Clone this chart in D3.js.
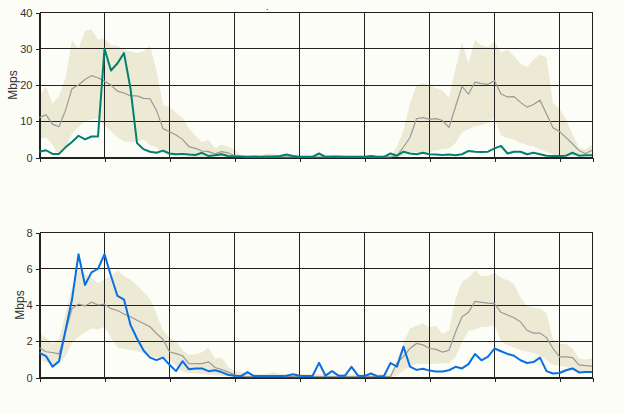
<!DOCTYPE html>
<html lang="en">
<head>
<meta charset="utf-8">
<style type="text/css">
    body {
        margin: 0;
        background: #fdfdf8;
        font-family: "Liberation Sans", Arial, sans-serif;
    }
    svg {
        position: absolute;
        left: 0;
        overflow: hidden;
    }
    .grid line {
        stroke: #222;
        stroke-width: 1px;
        shape-rendering: crispEdges;
    }
    .axis path, .axis line {
        stroke: #222;
        shape-rendering: crispEdges;
    }
    .axis text {
        fill: #333;
        font-size: 11px;
        font-family: "Liberation Sans", Arial, sans-serif;
    }
</style>
</head>
<body>
<svg id="top" width="624" height="164" style="top:0"></svg>
<svg id="bottom" width="624" height="164" style="top:220px"></svg>

<script src="https://d3js.org/d3.v7.min.js"></script>
<script>
// one sample every 1/10 of a grid column, 86 samples per series
var xTicks = [0, 10, 20, 30, 40, 50, 60, 70, 80];
var topTicks = [0, 10, 20, 30, 40];
var bottomTicks = [0, 2, 4, 6, 8];

// upper chart (Mbps)
var topIn = [
    1.6, 2.0, 1.0, 1.0, 2.8, 4.3, 6.0, 5.0, 5.8, 5.8,
    30.0, 24.0, 26.0, 28.8, 19.0, 4.0, 2.3, 1.6, 1.3, 1.9,
    1.1, 0.9, 1.0, 0.8, 0.7, 1.3, 0.4, 0.6, 0.9, 0.4,
    0.3, 0.3, 0.2, 0.3, 0.2, 0.3, 0.3, 0.4, 0.8, 0.4,
    0.2, 0.2, 0.2, 1.1, 0.2, 0.3, 0.3, 0.2, 0.2, 0.2,
    0.2, 0.4, 0.2, 0.2, 1.1, 0.5, 1.6, 1.1, 0.9, 1.3,
    0.9, 0.8, 0.7, 0.8, 0.6, 0.9, 1.8, 1.6, 1.5, 1.6,
    2.5, 3.2, 1.1, 1.6, 1.6, 0.9, 1.3, 0.9, 0.5, 0.4,
    0.4, 0.5, 1.3, 0.5, 0.6, 0.6
];
var topAvg = [
    11.0, 11.8, 9.2, 8.5, 13.0, 19.0, 20.0, 21.5, 22.6, 22.0,
    21.0, 20.0, 18.3, 17.8, 17.0, 17.0, 16.3, 16.2, 13.0, 8.0,
    7.1, 6.2, 5.0, 3.0, 2.5, 1.8, 1.6, 1.0, 1.6, 1.3,
    0.5, 0.3, 0.2, 0.2, 0.2, 0.2, 0.2, 0.2, 0.2, 0.2,
    0.2, 0.2, 0.2, 0.2, 0.2, 0.2, 0.2, 0.2, 0.2, 0.2,
    0.2, 0.2, 0.2, 0.2, 0.2, 0.5, 2.9, 5.5, 10.7, 11.0,
    10.5, 10.7, 10.2, 8.3, 14.0, 19.6, 17.5, 20.8, 20.4, 20.2,
    21.2, 17.5, 16.7, 16.8, 15.2, 13.9, 14.6, 15.8, 12.0, 8.2,
    7.2, 5.5, 3.8, 1.9, 1.1, 2.0
];
var topHi = [
    17.2, 19.5, 14.8, 17.0, 22.0, 32.3, 30.0, 35.0, 35.3, 32.5,
    33.0, 31.0, 30.8, 29.8, 29.3, 28.8, 29.3, 30.8, 24.0, 14.5,
    13.9, 12.3, 11.0, 8.0, 6.0, 4.2, 4.8, 2.6, 3.5, 3.0,
    2.3, 0.6, 0.5, 0.5, 0.6, 1.1, 1.0, 0.5, 0.6, 0.5,
    0.5, 0.5, 0.5, 0.5, 0.5, 0.5, 0.5, 0.5, 0.5, 0.5,
    0.5, 0.5, 0.5, 0.5, 0.5, 3.0, 7.5, 14.9, 19.9, 20.5,
    19.9, 19.2, 18.5, 16.5, 24.5, 31.8, 26.0, 32.5, 31.0, 30.5,
    32.0, 29.0, 29.8, 28.0, 25.8, 25.0, 27.0, 28.5, 27.5, 15.0,
    13.6, 10.5, 6.5, 2.8, 2.2, 3.5
];
var topLo = [
    5.2, 5.5, 3.5, 0.5, 2.5, 6.6, 8.5, 9.9, 10.5, 10.7,
    8.8, 7.3, 5.5, 4.5, 4.3, 4.5, 5.0, 3.4, 2.8, 1.2,
    0.6, 0.4, 0.2, 0.1, 0.1, 0.1, 0.1, 0.1, 0.1, 0.1,
    0.1, 0.1, 0.1, 0.1, 0.1, 0.1, 0.1, 0.1, 0.1, 0.1,
    0.1, 0.1, 0.1, 0.1, 0.1, 0.1, 0.1, 0.1, 0.1, 0.1,
    0.1, 0.1, 0.1, 0.1, 0.1, 0.1, 0.5, 1.6, 1.4, 1.3,
    1.5, 2.0, 2.3, 2.5, 4.0, 7.0, 7.8, 8.6, 8.9, 9.5,
    11.0, 6.0, 5.4, 5.0, 4.0, 3.4, 3.1, 2.2, 1.6, 0.8,
    0.5, 0.3, 0.3, 0.3, 0.3, 0.3
];

// lower chart (Mbps)
var bottomIn = [
    1.36, 1.18, 0.6, 0.9, 2.6, 4.3, 6.8, 5.1, 5.8, 6.0,
    6.8, 5.6, 4.5, 4.3, 2.9, 2.15, 1.5, 1.1, 0.96, 1.1,
    0.7, 0.35, 0.9, 0.45, 0.5, 0.5, 0.35, 0.4, 0.3, 0.15,
    0.1, 0.08, 0.3, 0.08, 0.08, 0.08, 0.08, 0.08, 0.1, 0.18,
    0.1, 0.08, 0.08, 0.81, 0.1, 0.35, 0.1, 0.1, 0.59, 0.1,
    0.08, 0.22, 0.06, 0.08, 0.8, 0.6, 1.7, 0.6, 0.42, 0.48,
    0.38, 0.33, 0.33, 0.4, 0.59, 0.5, 0.74, 1.3, 0.95, 1.15,
    1.6, 1.45, 1.3, 1.2, 0.95, 0.8, 0.85, 1.1, 0.35, 0.22,
    0.25, 0.4, 0.5, 0.28, 0.3, 0.31
];
var bottomAvg = [
    1.64, 1.42, 1.38, 1.3, 2.5, 3.8, 4.05, 3.95, 4.15, 4.0,
    4.05, 3.8, 3.7, 3.5, 3.35, 3.16, 2.98, 2.8, 2.43, 2.1,
    1.42, 1.32, 1.2, 0.76, 0.77, 0.77, 0.86, 0.55, 0.44, 0.31,
    0.15, 0.08, 0.05, 0.05, 0.05, 0.05, 0.05, 0.05, 0.05, 0.05,
    0.05, 0.05, 0.05, 0.05, 0.05, 0.05, 0.05, 0.05, 0.05, 0.05,
    0.05, 0.05, 0.05, 0.05, 0.05, 0.8, 1.15, 1.6, 1.88, 1.8,
    1.6, 1.55, 1.4, 1.5, 2.5, 3.35, 3.6, 4.2, 4.15, 4.1,
    4.08, 3.6, 3.45, 3.3, 3.07, 2.6, 2.45, 2.45, 2.2, 1.6,
    1.14, 1.14, 1.1, 0.7, 0.65, 0.63
];
var bottomHi = [
    2.43, 2.2, 1.85, 2.1, 3.5, 5.0, 6.0, 5.7, 5.5, 5.2,
    5.4, 5.6, 5.9, 5.6, 5.4, 5.1, 4.7, 4.35, 3.5, 2.6,
    2.2, 2.0, 1.5, 1.25, 1.28, 1.4, 1.65, 1.05, 1.1, 0.6,
    0.37, 0.3, 0.2, 0.2, 0.2, 0.2, 0.3, 0.2, 0.2, 0.2,
    0.2, 0.2, 0.2, 0.2, 0.2, 0.2, 0.2, 0.2, 0.2, 0.2,
    0.2, 0.2, 0.2, 0.2, 0.2, 1.0, 1.9, 2.7, 2.85, 3.0,
    2.75, 2.85, 2.4, 2.6, 4.3, 5.3, 5.5, 5.9, 5.6, 5.6,
    5.8, 5.5, 5.37, 5.15, 4.4, 3.95, 3.86, 3.8, 3.55, 2.1,
    1.86, 1.85, 1.6, 1.05, 1.0, 1.05
];
var bottomLo = [
    0.96, 0.86, 0.66, 0.72, 1.2, 1.87, 2.25, 2.5, 2.7, 2.65,
    2.8, 2.2, 1.65, 1.58, 1.5, 1.47, 1.32, 1.14, 1.1, 1.05,
    0.96, 0.65, 0.32, 0.25, 0.22, 0.2, 0.15, 0.13, 0.1, 0.05,
    0.03, 0.03, 0.03, 0.03, 0.03, 0.03, 0.03, 0.03, 0.03, 0.03,
    0.03, 0.03, 0.03, 0.03, 0.03, 0.03, 0.03, 0.03, 0.03, 0.03,
    0.03, 0.03, 0.03, 0.03, 0.03, 0.1, 0.4, 0.6, 0.77, 0.75,
    0.74, 0.76, 0.78, 0.8, 1.1, 1.95, 2.6, 2.65, 2.78, 2.8,
    2.9, 2.0, 1.8, 1.65, 1.5, 1.42, 1.35, 1.2, 0.95, 0.7,
    0.65, 0.59, 0.4, 0.28, 0.26, 0.3
];

var xEnd = 553 / 6.5;
var x = d3.scaleLinear().domain([0, xEnd]).range([39.5, 592.5]);

function drawPanel(svg, cfg) {
    var y = d3.scaleLinear().domain([0, cfg.yMax]).range([157.5, 12.5]);

    var area = d3.area()
        .x(function (d, i) { return x(i); })
        .y0(function (d, i) { return y(cfg.lo[i]); })
        .y1(function (d) { return y(d); });

    var line = d3.line()
        .x(function (d, i) { return x(i); })
        .y(function (d) { return y(d); });

    svg.append("path")
        .datum(cfg.hi)
        .attr("d", area)
        .attr("fill", "#ece9d4");

    var grid = svg.append("g").attr("class", "grid");
    grid.selectAll(".h")
        .data(cfg.ticks)
        .enter().append("line")
        .attr("x1", x(0)).attr("x2", x(xEnd))
        .attr("y1", function (d) { return y(d); })
        .attr("y2", function (d) { return y(d); });
    grid.selectAll(".v")
        .data(xTicks.concat([xEnd]))
        .enter().append("line")
        .attr("x1", function (d) { return x(d); })
        .attr("x2", function (d) { return x(d); })
        .attr("y1", y(cfg.yMax)).attr("y2", y(0));

    svg.append("g")
        .attr("class", "axis")
        .attr("transform", "translate(" + x(0) + ",0)")
        .call(d3.axisLeft(y).tickValues(cfg.ticks).tickSize(4).tickSizeOuter(0));

    svg.append("g")
        .attr("class", "axis")
        .attr("transform", "translate(0," + y(0) + ")")
        .call(d3.axisBottom(x).tickValues(xTicks.concat([xEnd]))
            .tickSize(4).tickSizeOuter(0).tickFormat(""));

    svg.append("path")
        .datum(cfg.avg)
        .attr("d", line)
        .attr("fill", "none")
        .attr("stroke", "#999")
        .attr("stroke-width", 1.2);

    svg.append("path")
        .datum(cfg.main)
        .attr("d", line)
        .attr("fill", "none")
        .attr("stroke", cfg.color)
        .attr("stroke-width", 2)
        .attr("stroke-linejoin", "round");

    svg.append("text")
        .attr("transform", "translate(" + cfg.labelX + "," + ((y(0) + y(cfg.yMax)) / 2) + ") rotate(-90)")
        .attr("text-anchor", "middle")
        .attr("dy", "0.35em")
        .attr("fill", "#333")
        .style("font-size", "12px")
        .text("Mbps");
}

drawPanel(d3.select("#top"), {
    yMax: 40, ticks: topTicks, main: topIn, avg: topAvg, hi: topHi, lo: topLo,
    color: "#00806e", labelX: 13
});
drawPanel(d3.select("#bottom"), {
    yMax: 8, ticks: bottomTicks, main: bottomIn, avg: bottomAvg, hi: bottomHi, lo: bottomLo,
    color: "#0a6fe0", labelX: 20
});

// stray title dot above the upper chart
d3.select("#top").append("text")
    .attr("x", 266).attr("y", 10)
    .style("font-size", "9px")
    .attr("fill", "#000")
    .text(".");
</script>
</body>
</html>
